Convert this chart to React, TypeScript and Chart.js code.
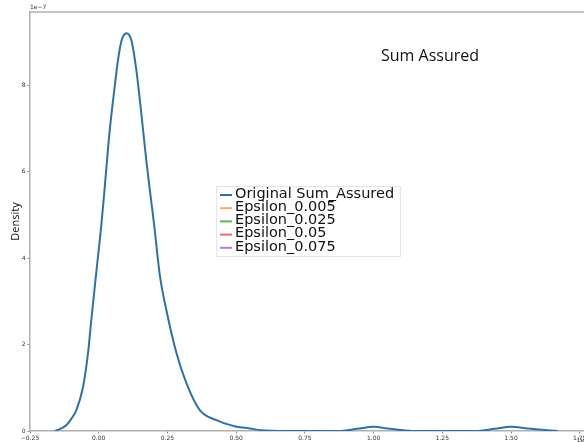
import React, { useEffect, useRef } from "react";
import { Chart, registerables } from "chart.js";

Chart.register(...registerables);

// Sum Assured (x, units of 1e7) vs density (y, units of 1e-7)
const sumAssuredX = [
  -0.16, -0.14, -0.117, -0.1, -0.081, -0.057, -0.039, -0.027, -0.008, 0.01, 0.022, 0.04, 0.058, 0.07, 0.083,
  0.101, 0.119, 0.137, 0.155, 0.173, 0.192, 0.202, 0.222, 0.246, 0.283, 0.319, 0.367, 0.428, 0.501, 0.549,
  0.59, 0.63, 0.7, 0.8, 0.87, 0.94, 1.0, 1.06, 1.14, 1.25, 1.37, 1.44, 1.5, 1.56, 1.67,
];
const originalDensity = [
  0, 0.05, 0.14, 0.28, 0.49, 1.02, 1.8, 2.57, 3.72, 4.8, 5.65, 6.96, 7.96, 8.58, 9.04,
  9.21, 9.04, 8.35, 7.35, 6.27, 5.27, 4.75, 3.62, 2.8, 1.8, 1.11, 0.49, 0.25, 0.1, 0.06,
  0.02, 0.005, 0, 0, 0, 0.05, 0.1, 0.05, 0, 0, 0, 0.05, 0.1, 0.06, 0,
];

const seriesNames = ["Original Sum_Assured", "Epsilon_0.005", "Epsilon_0.025", "Epsilon_0.05", "Epsilon_0.075"];
const seriesColors = ["#2f71a6", "#ffa95e", "#5cb85c", "#e46f6f", "#b07fe0"];

const xTickMin = -0.25;
const xTickMax = 1.78;
const xTickStep = 0.25;
const yTickMin = 0;
const yTickMax = 9.7;
const yTickStep = 2;

const titleText = "Sum Assured";
const yAxisLabel = "Density";
const yOffsetText = "1e\u22127";
const xOffsetText = "1e7";

const fmtX = (v: number) => {
  const s = Math.abs(v).toFixed(2);
  return v < -1e-9 ? "\u2212" + s : s;
};

const overlayPlugin = {
  id: "overlay",
  afterDraw(chart: any) {
    const { ctx, chartArea } = chart;
    ctx.save();
    // top spine
    ctx.strokeStyle = "#b0b0b0";
    ctx.lineWidth = 1.5;
    ctx.beginPath();
    ctx.moveTo(chartArea.left, chartArea.top);
    ctx.lineTo(chartArea.right, chartArea.top);
    ctx.stroke();
    // offset texts
    ctx.fillStyle = "#333";
    ctx.font = "6px 'DejaVu Sans'";
    ctx.textAlign = "left";
    ctx.textBaseline = "bottom";
    ctx.fillText(yOffsetText, chartArea.left, chartArea.top - 2);
    ctx.textAlign = "right";
    ctx.textBaseline = "bottom";
    ctx.fillText(xOffsetText, chartArea.right, 443);
    // title
    ctx.fillStyle = "#111";
    ctx.font = "16px 'Open Sans'";
    ctx.textAlign = "center";
    ctx.textBaseline = "middle";
    ctx.fillText(titleText, 430, 56);
    // legend
    const bx = 216, by = 186, bw = 184, bh = 70;
    ctx.fillStyle = "rgba(255,255,255,0.85)";
    ctx.fillRect(bx, by, bw, bh);
    ctx.strokeStyle = "#e4e4e4";
    ctx.lineWidth = 1;
    ctx.strokeRect(bx + 0.5, by + 0.5, bw, bh);
    ctx.font = "14.5px 'DejaVu Sans'";
    ctx.textAlign = "left";
    ctx.textBaseline = "middle";
    seriesNames.forEach((name, i) => {
      const y = 194 + i * 13.2;
      ctx.strokeStyle = seriesColors[i];
      ctx.lineWidth = 2;
      ctx.beginPath();
      ctx.moveTo(220, y + 1);
      ctx.lineTo(232, y + 1);
      ctx.stroke();
      ctx.fillStyle = "#111";
      ctx.fillText(name, 235, y);
    });
    ctx.restore();
  },
};

export default function App() {
  const ref = useRef<HTMLCanvasElement | null>(null);
  useEffect(() => {
    document.body.style.margin = "0";
    document.body.style.overflow = "hidden";
    const canvas = ref.current!;
    const datasets = seriesNames.map((name, i) => ({
      label: name,
      data: i === 0 ? sumAssuredX.map((x, j) => ({ x, y: originalDensity[j] })) : [],
      borderColor: seriesColors[i],
      backgroundColor: seriesColors[i],
      borderWidth: 2,
      pointRadius: 0,
      cubicInterpolationMode: "monotone" as const,
      fill: false,
    }));
    const chart = new Chart(canvas, {
      type: "line",
      data: { datasets },
      options: {
        responsive: false,
        animation: false,
        layout: { padding: { top: 12, left: 0, right: 0, bottom: 0 } },
        plugins: { legend: { display: false }, tooltip: { enabled: false } },
        scales: {
          x: {
            type: "linear",
            min: xTickMin,
            max: xTickMax,
            afterFit: (s: any) => { s.height = 12; },
            border: { color: "#b0b0b0", width: 1.5 },
            grid: { display: true, drawOnChartArea: false, tickLength: 2.5, color: "#888" },
            ticks: {
              stepSize: xTickStep,
              includeBounds: false,
              autoSkip: false,
              maxRotation: 0,
              padding: 1,
              color: "#333",
              font: { size: 6, family: "'DejaVu Sans'" },
              callback: (v: any) => fmtX(Number(v)),
            },
          },
          y: {
            type: "linear",
            min: yTickMin,
            max: yTickMax,
            afterFit: (s: any) => { s.width = 30; },
            border: { color: "#b0b0b0", width: 1.5 },
            grid: { display: true, drawOnChartArea: false, tickLength: 2.5, color: "#888" },
            title: {
              display: true,
              text: yAxisLabel,
              color: "#111",
              font: { size: 11, family: "'Open Sans'" },
              padding: { top: 9, bottom: 0 },
            },
            ticks: {
              stepSize: yTickStep,
              includeBounds: false,
              padding: 2,
              color: "#333",
              font: { size: 6, family: "'DejaVu Sans'" },
              callback: (v: any) => String(Number(v)),
            },
          },
        },
      },
      plugins: [overlayPlugin],
    });
    return () => chart.destroy();
  }, []);
  return (
    <div style={{ position: "absolute", left: 0, top: 0, width: 584, height: 443, overflow: "hidden", background: "#fff" }}>
      <canvas ref={ref} width={588} height={443} style={{ display: "block" }} />
    </div>
  );
}
